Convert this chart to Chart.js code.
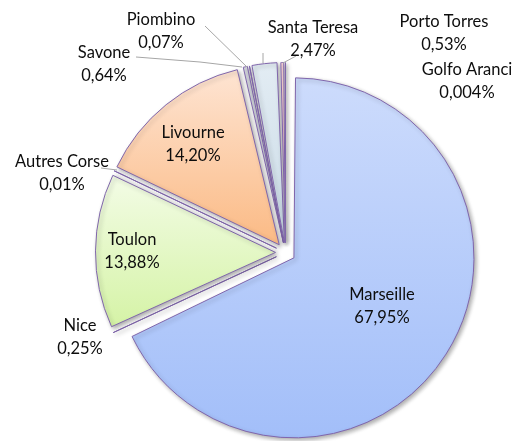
<!DOCTYPE html>
<html>
<head>
<meta charset="utf-8">
<script src="https://cdn.jsdelivr.net/npm/chart.js@4.4.0/dist/chart.umd.min.js"></script>
<style>
  body { margin: 0; background: #fff; }
  #wrap { width: 517px; height: 441px; position: relative; }
</style>
</head>
<body>
<div id="wrap"><canvas id="myChart"></canvas></div>
<script>
// ports, clockwise from 12 o'clock
var ports = ['Marseille', 'Nice', 'Toulon', 'Autres Corse', 'Livourne', 'Savone', 'Piombino', 'Santa Teresa', 'Porto Torres', 'Golfo Aranci'];
var shares = [67.95, 0.25, 13.88, 0.01, 14.20, 0.64, 0.07, 2.47, 0.53, 0.004];
var shareLabels = ['67,95%', '0,25%', '13,88%', '0,01%', '14,20%', '0,64%', '0,07%', '2,47%', '0,53%', '0,004%'];

var topColors = ['#ccdbfc', '#f7a9bb', '#f3fce6', '#d8d2e6', '#fee6d6', '#d7dae0', '#d9d3e8', '#e4edf4', '#fbd8d8', '#cdc0e0'];
var bottomColors = ['#a2bef9', '#f0889f', '#d5f3a6', '#c4bad8', '#fbbc88', '#c6cad2', '#c9bfdf', '#cbdce7', '#f6c4c4', '#b9a8d4'];

// chart.js moves an arc by offset/4
var OFFSET = 40;
var SHIFT = OFFSET / 4;

// label anchors and leader lines (layout only)
var labelPos = [
    [382, 295], [80, 326], [132, 240], [62, 162], [193, 133],
    [104, 53], [161, 20], [313, 28], [444, 22], [467, 70]
];
var leaders = [
    null, null, null, [[101, 168], [117, 170]], null,
    [[136, 57], [200, 62], [242, 67]], [[205, 26], [247, 67]],
    [[263, 53], [263, 63]], [[283, 63], [296, 56]], null
];

var ctx = document.getElementById('myChart').getContext('2d');

function pieRadius(ca) {
    return (Math.min(ca.width, ca.height) - 1 - SHIFT) / 2;
}

function sliceGradient(c) {
    var i = c.dataIndex;
    var chart = c.chart;
    var ca = chart.chartArea;
    if (!ca || i === undefined) return topColors[i || 0];
    var total = 0, a0 = 0, k;
    for (k = 0; k < shares.length; k++) total += shares[k];
    for (k = 0; k < i; k++) a0 += shares[k] / total * Math.PI * 2;
    var a1 = a0 + shares[i] / total * Math.PI * 2;
    var cy = (ca.top + ca.bottom) / 2 - Math.cos((a0 + a1) / 2) * SHIFT;
    var r = pieRadius(ca);
    var ymin = cy, ymax = cy;
    for (k = 0; k <= 60; k++) {
        var a = a0 + (a1 - a0) * k / 60;
        var y = cy - r * Math.cos(a);
        ymin = Math.min(ymin, y);
        ymax = Math.max(ymax, y);
    }
    if (ymax - ymin < 1) ymax = ymin + 1;
    var g = chart.ctx.createLinearGradient(0, ymin, 0, ymax);
    g.addColorStop(0, topColors[i]);
    g.addColorStop(1, bottomColors[i]);
    return g;
}

// keep every exploded slice at the same visible radius
var radiusPlugin = {
    id: 'evenRadius',
    afterDatasetUpdate: function (chart) {
        var ca = chart.chartArea;
        var R = pieRadius(ca);
        var arcs = chart.getDatasetMeta(0).data;
        for (var i = 0; i < arcs.length; i++) {
            var circ = arcs[i].endAngle - arcs[i].startAngle;
            var fix = 1 - Math.sin(Math.min(Math.PI, circ));
            arcs[i].outerRadius = R - SHIFT * fix;
        }
    }
};

var shadowPlugin = {
    id: 'shadow',
    beforeDatasetsDraw: function (chart) {
        var c = chart.ctx;
        c.save();
        c.shadowColor = 'rgba(0,0,0,0.32)';
        c.shadowBlur = 4;
        c.shadowOffsetX = 2;
        c.shadowOffsetY = 2;
    },
    afterDatasetsDraw: function (chart) {
        chart.ctx.restore();
    }
};

var labelPlugin = {
    id: 'sliceLabels',
    afterDraw: function (chart) {
        var c = chart.ctx;
        c.save();
        c.strokeStyle = '#a6a6a6';
        c.lineWidth = 1;
        for (var i = 0; i < leaders.length; i++) {
            var pts = leaders[i];
            if (!pts) continue;
            c.beginPath();
            c.moveTo(pts[0][0], pts[0][1]);
            for (var j = 1; j < pts.length; j++) c.lineTo(pts[j][0], pts[j][1]);
            c.stroke();
        }
        c.fillStyle = '#0d0d0d';
        c.font = '16.5px Lato';
        c.textAlign = 'center';
        c.textBaseline = 'middle';
        for (var i = 0; i < ports.length; i++) {
            var p = labelPos[i];
            c.fillText(ports[i], p[0], p[1]);
            c.fillText(shareLabels[i], p[0], p[1] + 23);
        }
        c.restore();
    }
};

var myChart = new Chart(ctx, {
    type: 'pie',
    data: {
        labels: ports,
        datasets: [{
            data: shares,
            backgroundColor: sliceGradient,
            borderColor: '#8066ac',
            borderWidth: 1,
            hoverBorderWidth: 1,
            offset: OFFSET,
            hoverOffset: OFFSET
        }]
    },
    options: {
        responsive: true,
        maintainAspectRatio: false,
        animation: false,
        events: [],
        layout: { padding: { top: 67, bottom: 3, left: 100, right: 46 } },
        plugins: {
            legend: { display: false },
            tooltip: { enabled: false }
        }
    },
    plugins: [radiusPlugin, shadowPlugin, labelPlugin]
});
</script>
</body>
</html>
